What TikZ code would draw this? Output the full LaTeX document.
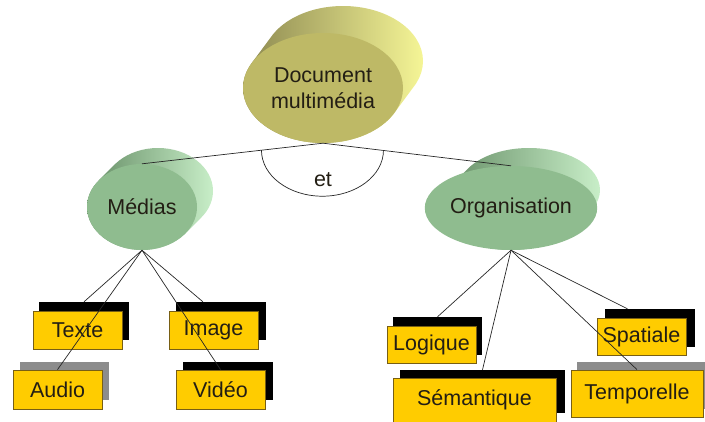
\documentclass[tikz,border=0pt]{standalone}
\usepackage{fontspec}
\setmainfont{Liberation Sans}
\usetikzlibrary{calc,shapes.geometric}
\definecolor{ink}{RGB}{35,30,20}
\definecolor{docfront}{RGB}{190,185,102}
\definecolor{docleft}{RGB}{140,136,80}
\definecolor{docdark}{RGB}{80,78,50}
\definecolor{doclight}{RGB}{245,245,150}
\definecolor{grfront}{RGB}{143,188,143}
\definecolor{grleft}{RGB}{100,140,100}
\definecolor{grdark}{RGB}{50,85,50}
\definecolor{grlight}{RGB}{200,238,200}
\definecolor{boxfill}{RGB}{255,204,0}
\definecolor{boxline}{RGB}{120,95,20}
\definecolor{shgray}{RGB}{140,140,140}
\newcommand\cylside[9]{%
  \begin{scope}
    \clip foreach \t in {0,0.05,...,1.01} { (#1+\t*#5, #2+\t*#6) ellipse [x radius=#3, y radius=#4] };
    \shade[left color=#7, middle color=#8, right color=#9]
      (#1-#3, #2+#6-#4-2) rectangle (#1+#5+#3, #2+#4+2);
  \end{scope}}
\begin{document}
\begin{tikzpicture}[x=1pt,y=-1pt, font=\fontsize{21.5}{25.5}\selectfont, text=ink,
  front/.style={ellipse, inner sep=0pt, fill=#1},
  leaf/.style={rectangle, inner sep=0pt, fill=boxfill, draw=boxline, line width=0.8pt},
  shadowbox/.style={rectangle, inner sep=0pt, fill=#1},
  link/.style={draw=black!85, line width=0.7pt}]

\useasboundingbox (0,0) rectangle (705,421);

% 3D sides of the ellipses
\cylside{323}{88}{80}{55}{20}{-27}{docleft}{docdark}{doclight}
\cylside{142}{207}{55}{43}{16}{-16}{grleft}{grdark}{grlight}
\cylside{511}{208}{71}{42}{18}{-18}{grleft}{grdark}{grlight}

% front faces
\node[front=docfront, minimum width=160pt, minimum height=110pt, align=center] (doc) at (323,88) {Document\\multimédia};
\node[front=grfront, minimum width=110pt, minimum height=86pt] (med) at (142,207) {Médias};
\node[front=grfront, minimum width=142pt, minimum height=84pt] (org) at (511,208) {Organisation};

% leaf boxes: shadows
\node[shadowbox=black, minimum width=90pt, minimum height=38pt] (texsh) at (84,321) {};
\node[shadowbox=shgray, minimum width=89pt, minimum height=38pt] (audsh) at (64.5,381) {};
\node[shadowbox=black, minimum width=90pt, minimum height=38pt] (imgsh) at (221,321) {};
\node[shadowbox=black, minimum width=90pt, minimum height=38pt] (vidsh) at (228,381) {};
\node[shadowbox=black, minimum width=89pt, minimum height=38pt] (logsh) at (437.5,336) {};
\node[shadowbox=black, minimum width=165pt, minimum height=43pt] (semsh) at (482.5,391.5) {};
\node[shadowbox=black, minimum width=90pt, minimum height=38pt] (spash) at (650,328) {};
\node[shadowbox=shgray, minimum width=135pt, minimum height=47pt] (temsh) at (644.5,385.5) {};

% leaf boxes: fronts
\node[leaf, minimum width=89pt, minimum height=38pt] (tex) at (77.5,330) {Texte};
\node[leaf, minimum width=89pt, minimum height=39pt] (aud) at (57.5,389.5) {Audio};
\node[leaf, minimum width=89pt, minimum height=38pt] (img) at (213.5,330) {Image};
\node[leaf, minimum width=89pt, minimum height=39pt] (vid) at (220.5,389.5) {Vidéo};
\node[leaf, minimum width=89pt, minimum height=37pt] (log) at (431.5,344.5) {Logique};
\node[leaf, minimum width=163pt, minimum height=44pt] (sem) at (474.5,400) {Sémantique};
\node[leaf, minimum width=89pt, minimum height=37pt] (spa) at (641.5,336.5) {Spatiale};
\node[leaf, minimum width=132pt, minimum height=47pt] (tem) at (637,393.5) {Temporelle};

% connectors
\draw[link] (doc.south) -- (med.north);
\draw[link] (doc.south) -- (org.north);
\coordinate (etL) at ($(doc.south)!0.34!(med.north)$);
\draw[link] (etL) arc[start angle=180, end angle=0, x radius=61, y radius=46];
\node (et) at (323,180) {et};

\draw[link] (med.south) -- (texsh.north);
\draw[link] (med.south) -- (aud.north);
\draw[link] (med.south) -- ($(imgsh.north west)!0.3!(imgsh.north east)$);
\draw[link] (med.south) -- (vid.north);

\draw[link] (org.south) -- (logsh.north);
\draw[link] (org.south) -- (semsh.north);
\draw[link] (org.south) -- ($(spash.north west)!0.25!(spash.north east)$);
\draw[link] (org.south) -- (tem.north);
\end{tikzpicture}
\end{document}
